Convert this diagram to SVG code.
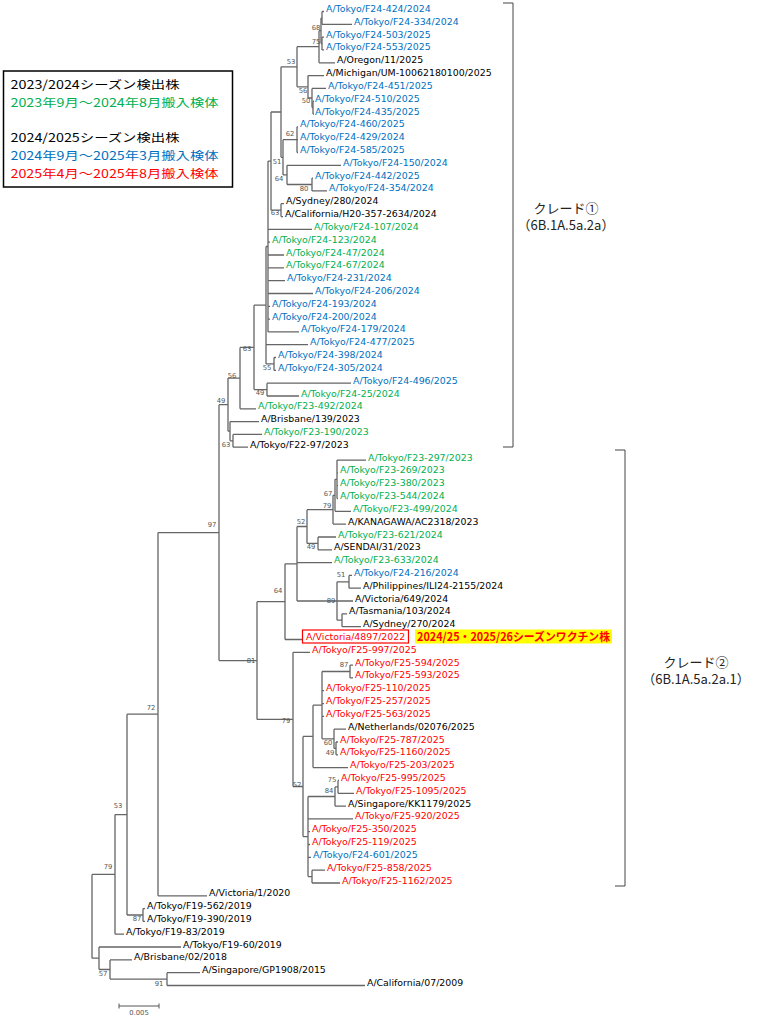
<svg xmlns="http://www.w3.org/2000/svg" width="762" height="1025" viewBox="0 0 762 1025">
<style>
.t{font-family:"DejaVu Sans",Verdana,sans-serif;font-size:9.4px}
.k{fill:#000}.bl{fill:#0070C0}.gr{fill:#00B050}.rd{fill:#FF0000}
.bs{font-family:"DejaVu Sans",Verdana,sans-serif;font-size:6.8px;fill:#555;text-anchor:middle}
.br{fill:none;stroke:#666;stroke-width:1.3}
.jp{font-family:"Noto Sans CJK JP",sans-serif;font-size:11.8px}
.cl{font-family:"Noto Sans CJK JP",sans-serif;font-size:13px;fill:#222;text-anchor:middle}
.brk{fill:none;stroke:#444;stroke-width:1}
</style>
<rect width="762" height="1025" fill="#fff"/>
<g id="connectors" class="br">
<path d="M322,11.5V24.3M322,11.5H324M322,24.3H352"/>
<path d="M322,37.1V49.9M322,37.1H324M322,49.9H324"/>
<path d="M321,17.9V43.5M321,17.9H322M321,43.5H322"/>
<path d="M319,30.7V62.8M319,30.7H321M319,62.8H335"/>
<path d="M313,101.2V114M313,101.2H314M313,114H314"/>
<path d="M312,88.4V107.6M312,88.4H326M312,107.6H313"/>
<path d="M308,75.6V98M308,75.6H324M308,98H312"/>
<path d="M297,46.7V86.8M297,46.7H319M297,86.8H308"/>
<path d="M297,126.8V152.5M297,126.8H298M297,139.7H298M297,152.5H298"/>
<path d="M312,178.1V190.9M312,178.1H313M312,190.9H327"/>
<path d="M287,165.3V184.5M287,165.3H341M287,184.5H312"/>
<path d="M283,139.7V174.9M283,139.7H297M283,174.9H287"/>
<path d="M281,66.8V157.3M281,66.8H297M281,157.3H283"/>
<path d="M281,203.7V216.6M281,203.7H284M281,216.6H283"/>
<path d="M271,112V210.2M271,112H281M271,210.2H281"/>
<path d="M268,161.1V331.9M268,161.1H271M268,229.4H312M268,242.2H270M268,255H284M268,267.8H284M268,280.6H285M268,293.5H313M268,306.3H270M268,319.1H270M268,331.9H299"/>
<path d="M274,357.5V370.4M274,357.5H276M274,370.4H276"/>
<path d="M266,246.5V363.9M266,246.5H268M266,344.7H308M266,363.9H274"/>
<path d="M267,383.2V396M267,383.2H351M267,396H299"/>
<path d="M254,305.2V389.6M254,305.2H266M254,389.6H267"/>
<path d="M240,347.4V408.8M240,347.4H254M240,408.8H256"/>
<path d="M233,434.4V447.2M233,434.4H262M233,447.2H248"/>
<path d="M230,421.6V440.8M230,421.6H259M230,440.8H233"/>
<path d="M228,378.1V431.2M228,378.1H240M228,431.2H230"/>
<path d="M337,460.1V498.5M337,460.1H366M337,472.9H338M337,485.7H338M337,498.5H338"/>
<path d="M335,479.3V511.3M335,479.3H337M335,511.3H351"/>
<path d="M333,495.3V524.1M333,495.3H335M333,524.1H346"/>
<path d="M318,537V549.8M318,537H336M318,549.8H332"/>
<path d="M307,509.7V543.4M307,509.7H333M307,543.4H318"/>
<path d="M349,575.4V588.2M349,575.4H352M349,588.2H361"/>
<path d="M342,613.8V626.7M342,613.8H347M342,626.7H361"/>
<path d="M337,581.8V620.2M337,581.8H349M337,601H353M337,620.2H342"/>
<path d="M297,526.5V601M297,526.5H307M297,562.6H332M297,601H337"/>
<path d="M285,563.8V639.5M285,563.8H297M285,639.5H303"/>
<path d="M350,665.1V677.9M350,665.1H353M350,677.9H353"/>
<path d="M336,742V754.8M336,742H338M336,754.8H338"/>
<path d="M334,729.2V748.4M334,729.2H346M334,748.4H336"/>
<path d="M322,671.5V738.8M322,671.5H350M322,690.7H324M322,703.6H324M322,716.4H324M322,738.8H334"/>
<path d="M313,705.2V767.6M313,705.2H322M313,767.6H348"/>
<path d="M338,780.4V793.3M338,780.4H339M338,793.3H354"/>
<path d="M335,786.9V806.1M335,786.9H338M335,806.1H346"/>
<path d="M312,870.2V883M312,870.2H325M312,883H340"/>
<path d="M308,796.5V876.6M308,796.5H335M308,818.9H353M308,831.7H310M308,844.5H310M308,857.3H311M308,876.6H312"/>
<path d="M303,736.4V836.6M303,736.4H313M303,836.6H308"/>
<path d="M293,652.3V786.5M293,652.3H310M293,786.5H303"/>
<path d="M257,601.7V719.4M257,601.7H285M257,719.4H293"/>
<path d="M219,404.7V660.6M219,404.7H228M219,660.6H257"/>
<path d="M158,532.6V895.8M158,532.6H219M158,895.8H207"/>
<path d="M143,908.6V921.4M143,908.6H145M143,921.4H145"/>
<path d="M127,714.2V915M127,714.2H158M127,915H143"/>
<path d="M115,814.6V934.2M115,814.6H127M115,934.2H124"/>
<path d="M167,972.7V985.5M167,972.7H200M167,985.5H365"/>
<path d="M110,959.9V979.1M110,959.9H132M110,979.1H167"/>
<path d="M99,947V969.5M99,947H181M99,969.5H110"/>
<path d="M92,874.4V958.2M92,874.4H115M92,958.2H99"/>
</g>
<g id="bootstrap" class="bs">
<text x="316" y="30.4">68</text><text x="316" y="44.4">75</text><text x="291" y="64.4">53</text>
<text x="303" y="93.4">56</text><text x="306" y="103.4">50</text><text x="290" y="136.4">62</text>
<text x="277" y="164.4">51</text><text x="279" y="181.4">64</text><text x="304" y="191.4">80</text>
<text x="275" y="215.4">63</text><text x="247" y="351.4">63</text><text x="267" y="370.4">55</text>
<text x="232" y="378.4">56</text><text x="260" y="395.4">49</text><text x="221" y="403.4">49</text>
<text x="226" y="447.4">63</text><text x="212" y="527.4">97</text><text x="328" y="496.4">67</text>
<text x="327" y="508.4">79</text><text x="301" y="524.4">52</text><text x="311" y="549.4">49</text>
<text x="341" y="577.4">51</text><text x="278" y="593.4">64</text><text x="331" y="603.4">89</text>
<text x="251" y="663.4">81</text><text x="344" y="667.4">87</text><text x="151" y="710.4">72</text>
<text x="286" y="723.4">79</text><text x="328" y="745.4">60</text><text x="330" y="755.4">49</text>
<text x="332" y="782.4">75</text><text x="297" y="787.4">52</text><text x="329" y="793.4">84</text>
<text x="118" y="808.4">53</text><text x="108" y="869.4">79</text><text x="137" y="921.4">87</text>
<text x="103" y="976.4">57</text><text x="159" y="986.4">91</text>
</g>
<g id="leaves" class="t">
<g id="n1"><text class="bl" x="326" y="12">A/Tokyo/F24-424/2024</text></g>
<g id="n2"><text class="bl" x="354" y="24.8">A/Tokyo/F24-334/2024</text></g>
<g id="n3"><text class="bl" x="326" y="37.6">A/Tokyo/F24-503/2025</text></g>
<g id="n4"><text class="bl" x="326" y="50.4">A/Tokyo/F24-553/2025</text></g>
<g id="n5"><text class="k" x="337" y="63.3">A/Oregon/11/2025</text></g>
<g id="n6"><text class="k" x="326" y="76.1">A/Michigan/UM-10062180100/2025</text></g>
<g id="n7"><text class="bl" x="328" y="88.9">A/Tokyo/F24-451/2025</text></g>
<g id="n8"><text class="bl" x="315" y="101.7">A/Tokyo/F24-510/2025</text></g>
<g id="n9"><text class="bl" x="315" y="114.5">A/Tokyo/F24-435/2025</text></g>
<g id="n10"><text class="bl" x="300" y="127.3">A/Tokyo/F24-460/2025</text></g>
<g id="n11"><text class="bl" x="300" y="140.2">A/Tokyo/F24-429/2024</text></g>
<g id="n12"><text class="bl" x="300" y="153">A/Tokyo/F24-585/2025</text></g>
<g id="n13"><text class="bl" x="343" y="165.8">A/Tokyo/F24-150/2024</text></g>
<g id="n14"><text class="bl" x="315" y="178.6">A/Tokyo/F24-442/2025</text></g>
<g id="n15"><text class="bl" x="329" y="191.4">A/Tokyo/F24-354/2024</text></g>
<g id="n16"><text class="k" x="286" y="204.2">A/Sydney/280/2024</text></g>
<g id="n17"><text class="k" x="285" y="217.1">A/California/H20-357-2634/2024</text></g>
<g id="n18"><text class="gr" x="314" y="229.9">A/Tokyo/F24-107/2024</text></g>
<g id="n19"><text class="gr" x="272" y="242.7">A/Tokyo/F24-123/2024</text></g>
<g id="n20"><text class="gr" x="286" y="255.5">A/Tokyo/F24-47/2024</text></g>
<g id="n21"><text class="gr" x="286" y="268.3">A/Tokyo/F24-67/2024</text></g>
<g id="n22"><text class="bl" x="287" y="281.1">A/Tokyo/F24-231/2024</text></g>
<g id="n23"><text class="bl" x="315" y="294">A/Tokyo/F24-206/2024</text></g>
<g id="n24"><text class="bl" x="272" y="306.8">A/Tokyo/F24-193/2024</text></g>
<g id="n25"><text class="bl" x="272" y="319.6">A/Tokyo/F24-200/2024</text></g>
<g id="n26"><text class="bl" x="301" y="332.4">A/Tokyo/F24-179/2024</text></g>
<g id="n27"><text class="bl" x="310" y="345.2">A/Tokyo/F24-477/2025</text></g>
<g id="n28"><text class="bl" x="278" y="358">A/Tokyo/F24-398/2024</text></g>
<g id="n29"><text class="bl" x="278" y="370.9">A/Tokyo/F24-305/2024</text></g>
<g id="n30"><text class="bl" x="353" y="383.7">A/Tokyo/F24-496/2025</text></g>
<g id="n31"><text class="gr" x="301" y="396.5">A/Tokyo/F24-25/2024</text></g>
<g id="n32"><text class="gr" x="258" y="409.3">A/Tokyo/F23-492/2024</text></g>
<g id="n33"><text class="k" x="261" y="422.1">A/Brisbane/139/2023</text></g>
<g id="n34"><text class="gr" x="264" y="434.9">A/Tokyo/F23-190/2023</text></g>
<g id="n35"><text class="k" x="250" y="447.7">A/Tokyo/F22-97/2023</text></g>
<g id="n36"><text class="gr" x="368" y="460.6">A/Tokyo/F23-297/2023</text></g>
<g id="n37"><text class="gr" x="340" y="473.4">A/Tokyo/F23-269/2023</text></g>
<g id="n38"><text class="gr" x="340" y="486.2">A/Tokyo/F23-380/2023</text></g>
<g id="n39"><text class="gr" x="340" y="499">A/Tokyo/F23-544/2024</text></g>
<g id="n40"><text class="gr" x="353" y="511.8">A/Tokyo/F23-499/2024</text></g>
<g id="n41"><text class="k" x="348" y="524.6">A/KANAGAWA/AC2318/2023</text></g>
<g id="n42"><text class="gr" x="338" y="537.5">A/Tokyo/F23-621/2024</text></g>
<g id="n43"><text class="k" x="334" y="550.3">A/SENDAI/31/2023</text></g>
<g id="n44"><text class="gr" x="334" y="563.1">A/Tokyo/F23-633/2024</text></g>
<g id="n45"><text class="bl" x="354" y="575.9">A/Tokyo/F24-216/2024</text></g>
<g id="n46"><text class="k" x="363" y="588.7">A/Philippines/ILI24-2155/2024</text></g>
<g id="n47"><text class="k" x="355" y="601.5">A/Victoria/649/2024</text></g>
<g id="n48"><text class="k" x="349" y="614.3">A/Tasmania/103/2024</text></g>
<g id="n49"><text class="k" x="363" y="627.2">A/Sydney/270/2024</text></g>
<g id="n50"><rect x="302.5" y="630" width="106" height="13" fill="none" stroke="#FF0000" stroke-width="1.2"/><text class="rd" x="306" y="640">A/Victoria/4897/2022</text></g>
<g id="vaccine"><rect x="415" y="629.5" width="197" height="14" fill="#FFFF00"/><text x="417" y="641" font-family="Noto Sans CJK JP, sans-serif" font-size="11.5" font-weight="bold" fill="#FF0000" textLength="193" lengthAdjust="spacingAndGlyphs">2024/25・2025/26シーズンワクチン株</text></g>
<g id="n51"><text class="rd" x="312" y="652.8">A/Tokyo/F25-997/2025</text></g>
<g id="n52"><text class="rd" x="355" y="665.6">A/Tokyo/F25-594/2025</text></g>
<g id="n53"><text class="rd" x="355" y="678.4">A/Tokyo/F25-593/2025</text></g>
<g id="n54"><text class="rd" x="326" y="691.2">A/Tokyo/F25-110/2025</text></g>
<g id="n55"><text class="rd" x="326" y="704.1">A/Tokyo/F25-257/2025</text></g>
<g id="n56"><text class="rd" x="326" y="716.9">A/Tokyo/F25-563/2025</text></g>
<g id="n57"><text class="k" x="348" y="729.7">A/Netherlands/02076/2025</text></g>
<g id="n58"><text class="rd" x="340" y="742.5">A/Tokyo/F25-787/2025</text></g>
<g id="n59"><text class="rd" x="340" y="755.3">A/Tokyo/F25-1160/2025</text></g>
<g id="n60"><text class="rd" x="350" y="768.1">A/Tokyo/F25-203/2025</text></g>
<g id="n61"><text class="rd" x="341" y="780.9">A/Tokyo/F25-995/2025</text></g>
<g id="n62"><text class="rd" x="356" y="793.8">A/Tokyo/F25-1095/2025</text></g>
<g id="n63"><text class="k" x="348" y="806.6">A/Singapore/KK1179/2025</text></g>
<g id="n64"><text class="rd" x="355" y="819.4">A/Tokyo/F25-920/2025</text></g>
<g id="n65"><text class="rd" x="312" y="832.2">A/Tokyo/F25-350/2025</text></g>
<g id="n66"><text class="rd" x="312" y="845">A/Tokyo/F25-119/2025</text></g>
<g id="n67"><text class="bl" x="313" y="857.8">A/Tokyo/F24-601/2025</text></g>
<g id="n68"><text class="rd" x="327" y="870.7">A/Tokyo/F25-858/2025</text></g>
<g id="n69"><text class="rd" x="342" y="883.5">A/Tokyo/F25-1162/2025</text></g>
<g id="n70"><text class="k" x="209" y="896.3">A/Victoria/1/2020</text></g>
<g id="n71"><text class="k" x="147" y="909.1">A/Tokyo/F19-562/2019</text></g>
<g id="n72"><text class="k" x="147" y="921.9">A/Tokyo/F19-390/2019</text></g>
<g id="n73"><text class="k" x="126" y="934.7">A/Tokyo/F19-83/2019</text></g>
<g id="n74"><text class="k" x="183" y="947.5">A/Tokyo/F19-60/2019</text></g>
<g id="n75"><text class="k" x="134" y="960.4">A/Brisbane/02/2018</text></g>
<g id="n76"><text class="k" x="202" y="973.2">A/Singapore/GP1908/2015</text></g>
<g id="n77"><text class="k" x="367" y="986">A/California/07/2009</text></g>
</g>
<g id="scale">
<path d="M119,1006H159M119,1003.5V1008.5M159,1003.5V1008.5" fill="none" stroke="#555" stroke-width="1"/>
<text class="bs" x="139" y="1015">0.005</text>
</g>
<g id="legend">
<rect x="3.5" y="71" width="229" height="116" fill="#fff" stroke="#000" stroke-width="1.5"/>
<text class="jp" x="10.5" y="88.5" fill="#000" textLength="169" lengthAdjust="spacingAndGlyphs">2023/2024シーズン検出株</text>
<text class="jp" x="10.5" y="107" fill="#00B050" textLength="208" lengthAdjust="spacingAndGlyphs">2023年9月～2024年8月搬入検体</text>
<text class="jp" x="10.5" y="141.5" fill="#000" textLength="169" lengthAdjust="spacingAndGlyphs">2024/2025シーズン検出株</text>
<text class="jp" x="10.5" y="159.5" fill="#0070C0" textLength="208" lengthAdjust="spacingAndGlyphs">2024年9月～2025年3月搬入検体</text>
<text class="jp" x="10.5" y="177.5" fill="#FF0000" textLength="208" lengthAdjust="spacingAndGlyphs">2025年4月～2025年8月搬入検体</text>
</g>
<g id="clade1">
<path class="brk" d="M503,3H513V447H503"/>
<text class="cl" x="566" y="212.5">クレード①</text>
<text class="cl" x="566" y="230">（6B.1A.5a.2a）</text>
</g>
<g id="clade2">
<path class="brk" d="M615,450H625V886H615"/>
<text class="cl" x="696" y="667">クレード②</text>
<text class="cl" x="696" y="684">（6B.1A.5a.2a.1）</text>
</g>
</svg>
